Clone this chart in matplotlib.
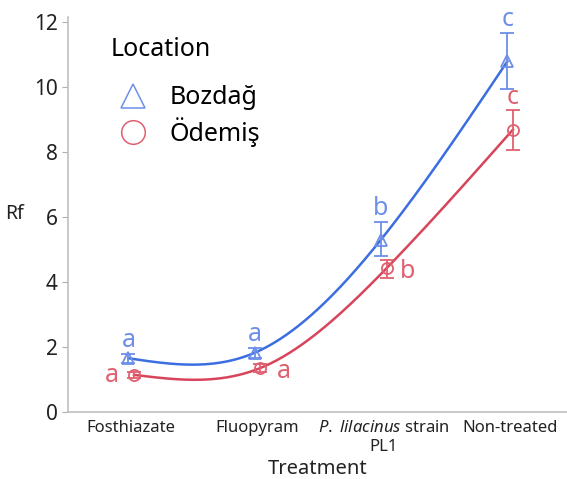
import numpy as np
import matplotlib
matplotlib.use("Agg")
import matplotlib.pyplot as plt
from matplotlib.lines import Line2D

plt.rcParams['font.family'] = ['Noto Sans', 'DejaVu Sans']
plt.rcParams['mathtext.fontset'] = 'custom'
plt.rcParams['mathtext.it'] = 'Noto Sans:italic'
plt.rcParams['mathtext.rm'] = 'Noto Sans'

# data
treatments = ["Fosthiazate", "Fluopyram", "$\\it{P.}$ $\\it{lilacinus}$ strain\nPL1", "Non-treated"]
locations = ["Bozdağ", "Ödemiş"]

boz_mean = [1.65, 1.82, 5.30, 10.78]
boz_low = [1.52, 1.66, 4.80, 9.94]
boz_high = [1.78, 1.97, 5.85, 11.66]
boz_letters = ["a", "a", "b", "c"]

ode_mean = [1.14, 1.35, 4.42, 8.68]
ode_low = [1.04, 1.22, 4.12, 8.06]
ode_high = [1.24, 1.48, 4.66, 9.29]
ode_letters = ["a", "a", "b", "c"]

blue_line = "#3b6ee0"
blue_pt = "#6d8fe8"
red_line = "#d8455a"
red_pt = "#e0606f"


def natural_spline(xk, yk, xx):
    # natural cubic spline through the means (evenly spaced knots)
    n = len(xk)
    h = xk[1] - xk[0]
    A = np.zeros((n, n))
    b = np.zeros(n)
    A[0, 0] = A[-1, -1] = 1
    for i in range(1, n - 1):
        A[i, i - 1], A[i, i], A[i, i + 1] = 1, 4, 1
        b[i] = 6 * (yk[i - 1] - 2 * yk[i] + yk[i + 1]) / h**2
    M = np.linalg.solve(A, b)
    idx = np.clip(((xx - xk[0]) // h).astype(int), 0, n - 2)
    t = (xx - xk[idx]) / h
    return ((1 - t) * yk[idx] + t * yk[idx + 1]
            + h**2 / 6 * (((1 - t)**3 - (1 - t)) * M[idx] + (t**3 - t) * M[idx + 1]))


fig = plt.figure(figsize=(5.67, 4.79), dpi=100)
ax = fig.add_axes([0.12, 0.14, 0.88, 0.825])

x = np.arange(len(treatments))
dodge = 0.022

series = [
    (boz_mean, boz_low, boz_high, "^", blue_line, blue_pt, -dodge),
    (ode_mean, ode_low, ode_high, "o", red_line, red_pt, dodge),
]
handles = []
for mean, low, high, mk, lc, pc, off in series:
    mean = np.array(mean)
    err = [mean - np.array(low), np.array(high) - mean]
    xs = x + off
    xx = np.linspace(xs[0], xs[-1], 300)
    ax.plot(xx, natural_spline(xs, mean, xx), color=lc, lw=1.8, zorder=2)
    ax.errorbar(xs, mean, yerr=err, fmt="none", ecolor=pc, elinewidth=1.3,
                capsize=5, capthick=1.3, zorder=3)
    ax.plot(xs, mean, linestyle="none", marker=mk, markersize=8,
            markerfacecolor="none", markeredgecolor=pc, markeredgewidth=1.3, zorder=4)
    handles.append(Line2D([], [], linestyle="none", marker=mk, markersize=17,
                          markerfacecolor="none", markeredgecolor=pc, markeredgewidth=1.1))

# significance letters (offsets in points)
for i, t in enumerate(boz_letters):
    ax.annotate(t, (x[i] - dodge, boz_high[i]), xytext=(0, 5), textcoords="offset points",
                ha="center", va="baseline", fontsize=18, color=blue_pt)

ode_offsets = [(-16, -5), (17, -7), (15, -7), (0, 4)]
for i, t in enumerate(ode_letters):
    dx, dy = ode_offsets[i]
    ref = ode_high[i] if i == 3 else ode_mean[i]
    ax.annotate(t, (x[i] + dodge, ref), xytext=(dx, dy), textcoords="offset points",
                ha="center", va="baseline", fontsize=18, color=red_pt)

ax.set_xlim(-0.5, 3.45)
ax.set_ylim(0, 12.15)
ax.set_yticks([0, 2, 4, 6, 8, 10, 12])
ax.set_xticks(x)
ax.set_xticklabels(treatments, fontsize=12, color="#222222")
ax.tick_params(axis="y", labelsize=15, colors="#222222", length=4, color="#b0b0b0")
ax.tick_params(axis="x", length=0, pad=6)
for s in ["top", "right"]:
    ax.spines[s].set_visible(False)
for s in ["left", "bottom"]:
    ax.spines[s].set_color("#c0c0c0")
    ax.spines[s].set_linewidth(1.2)

ax.set_xlabel("Treatment", fontsize=14.5, color="#222222", labelpad=3)
ax.set_ylabel("Rf", fontsize=14, color="#222222", rotation=0, labelpad=14, va="center")

leg = ax.legend(handles, locations, title="Location", loc="upper left",
                bbox_to_anchor=(0.155, 0.97), bbox_transform=fig.transFigure,
                frameon=False, fontsize=18, title_fontsize=18, handletextpad=0.55,
                labelspacing=0.25, handlelength=1.8)
leg._legend_box.align = "left"
leg._legend_box.sep = 17

fig.savefig("out.png", dpi=100)
